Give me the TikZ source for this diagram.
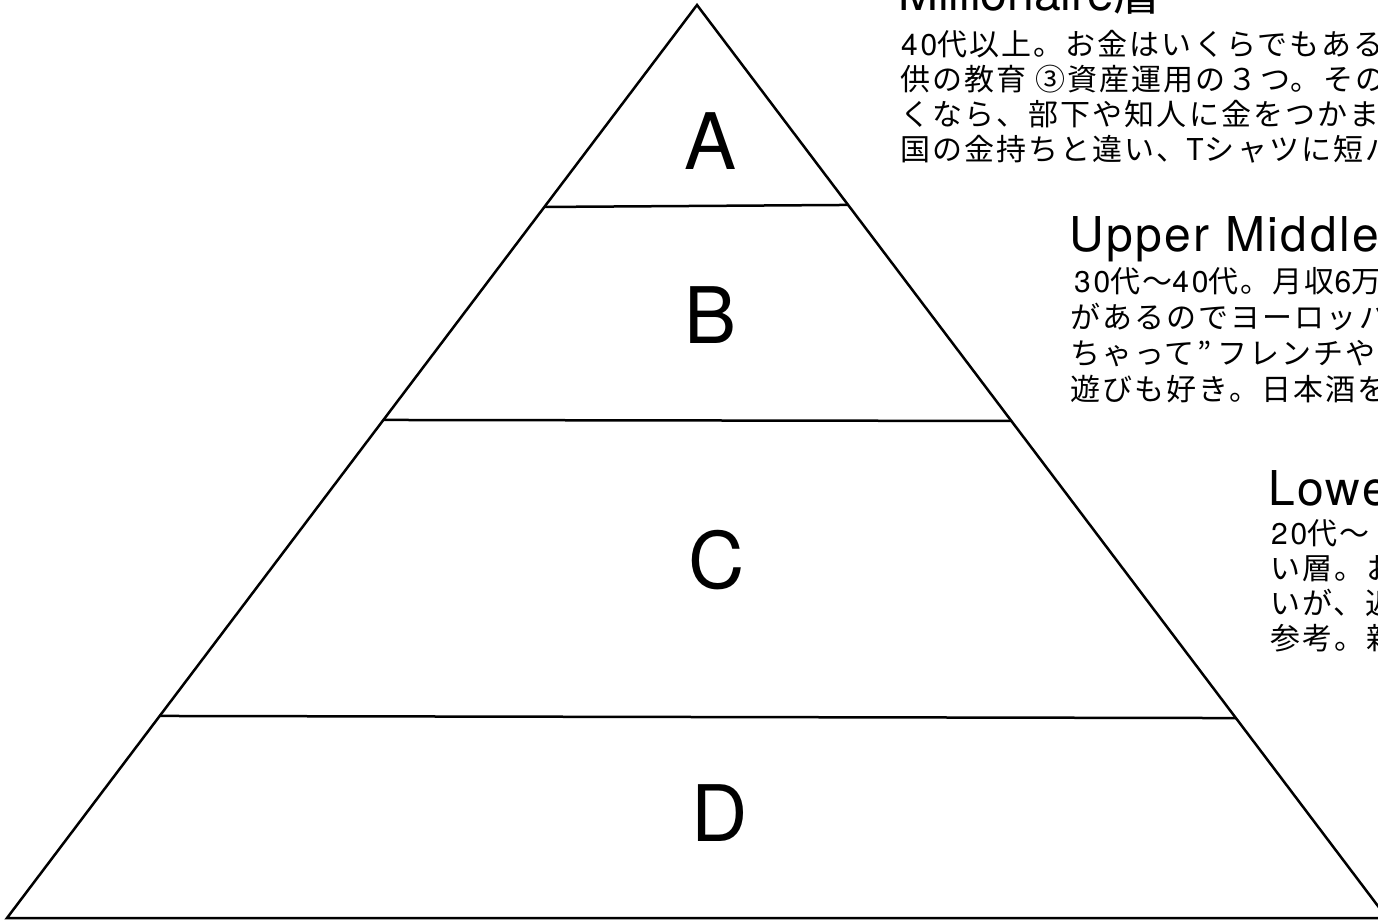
\documentclass[tikz,border=0pt]{standalone}
\usepackage{fontspec}
\setmainfont{TeX Gyre Heros}
\newfontfamily\jp[LetterSpace=7]{Noto Sans CJK JP}
\newfontfamily\headfont[LetterSpace=5]{TeX Gyre Heros}
\newfontfamily\plainjp{Noto Sans CJK JP}
\newfontfamily\digfont[LetterSpace=9]{TeX Gyre Heros}
\newcommand\digs[1]{{\digfont #1}}
\usetikzlibrary{calc}
\begin{document}
\begin{tikzpicture}[x=1pt,y=-1pt,
  edge/.style={line width=2.5pt, line join=miter, line cap=butt},
  letter/.style={font=\fontsize{78}{80}\selectfont, inner sep=0pt},
  heading/.style={anchor=base west, inner sep=0pt, font=\headfont\fontsize{48}{50}\selectfont},
  body/.style={anchor=base west, inner sep=0pt, font=\jp\fontsize{30}{36}\selectfont},
]
\useasboundingbox (0,0) rectangle (1378,920);
\fill[white] (0,0) rectangle (1378,920);
\clip (0,0) rectangle (1378,920);
% pyramid
\coordinate (apex) at (697,5);
\coordinate (bl) at (7,918);
\coordinate (br) at (1387,918);
\draw[edge] (apex) -- (bl) -- (br) -- cycle;
\coordinate (l1) at ($(apex)!0.2212!(bl)$);
\coordinate (r1) at ($(apex)!0.2190!(br)$);
\coordinate (l2) at ($(apex)!0.4545!(bl)$);
\coordinate (r2) at ($(apex)!0.4556!(br)$);
\coordinate (l3) at ($(apex)!0.7787!(bl)$);
\coordinate (r3) at ($(apex)!0.7810!(br)$);
\draw[edge] (l1) -- (r1);
\draw[edge] (l2) -- (r2);
\draw[edge] (l3) -- (r3);
% level letters
\node[letter] (A) at (711,141) {A};
\node[letter] (B) at (711,315) {B};
\node[letter] (C) at (717,560) {C};
\node[letter] (D) at (720,813) {D};
% block 1
\node[heading, font=\fontsize{48}{50}\selectfont] (h1) at (898,11) {Millionaire{\plainjp 層}};
\node[body] (t11) at (901,56) {\digs{40}代以上。お金はいくらでもある};
\node[body] (t12) at (900,91) {供の教育 ③資産運用の３つ。その};
\node[body] (t13) at (900,126) {くなら、部下や知人に金をつかま};
\node[body] (t14) at (900,161) {国の金持ちと違い、{\plainjp T}シャツに短パ};
% block 2
\node[heading] (h2) at (1069,251) {Upper Middle};
\node[body] (t21) at (1074,292) {\digs{30}代〜\digs{40}代。月収\digs{6}万};
\node[body] (t22) at (1070,328) {があるのでヨーロッパ};
\node[body] (t23) at (1070,364) {ちゃって”\hspace{6pt}フレンチや日};
\node[body] (t24) at (1070,400) {遊びも好き。日本酒を};
% block 3
\node[heading] (h3) at (1268,505) {Lower};
\node[body] (t31) at (1271,544) {\digs{20}代〜};
\node[body] (t32) at (1270,579) {い層。お};
\node[body] (t33) at (1270,614) {いが、近};
\node[body] (t34) at (1270,649) {参考。新};
\end{tikzpicture}
\end{document}
